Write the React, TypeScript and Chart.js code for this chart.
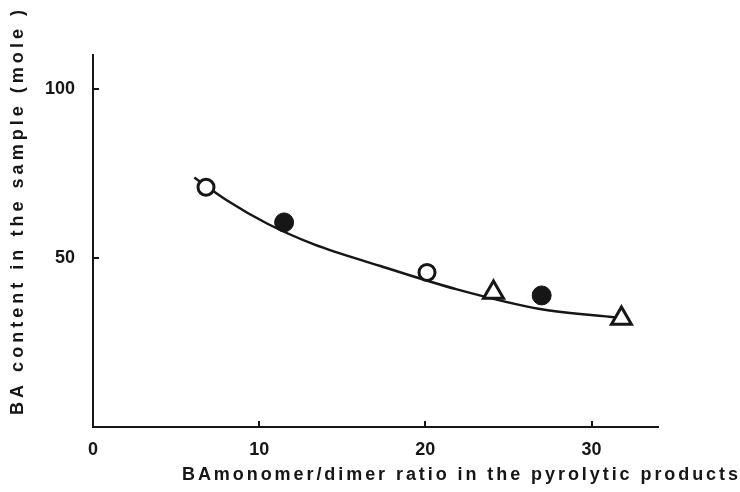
import React, { useEffect, useRef } from "react";
import { Chart, registerables } from "chart.js";

Chart.register(...registerables);

// ---- data ----
const xTickValues = [0, 10, 20, 30];
const yTickValues = [50, 100];

const openCircleX = [6.8, 20.1];
const openCircleY = [70.9, 45.7];

const filledCircleX = [11.5, 27.0];
const filledCircleY = [60.5, 38.9];

const triangleX = [24.1, 31.8];
const triangleY = [39.8, 32.1];

const curveX = [6.1, 8.0, 10.5, 13.3, 17.3, 21.9, 26.9, 31.5];
const curveY = [73.8, 67.2, 60.1, 54.0, 47.6, 40.7, 34.9, 32.4];

const xTitle = "BAmonomer/dimer ratio in the pyrolytic products";
const yTitle = "BA content in the sample (mole )";

const INK = "#161616";
const TICK_FAMILY = '"Liberation Sans", Arial, sans-serif';
const TITLE_FONT = 'bold 18px "Liberation Sans", Arial, sans-serif';

const toPoints = (xs: number[], ys: number[]) => xs.map((x, i) => ({ x, y: ys[i] }));

function drawSpaced(ctx: CanvasRenderingContext2D, text: string, x: number, y: number, length: number) {
  const chars = [...text];
  const widths = chars.map((c) => ctx.measureText(c).width);
  const total = widths.reduce((a, b) => a + b, 0);
  const gap = (length - total) / (chars.length - 1);
  let cx = x;
  chars.forEach((c, i) => {
    ctx.fillText(c, cx, y);
    cx += widths[i] + gap;
  });
}

const titlesPlugin = {
  id: "customTitles",
  afterDraw(chart: any) {
    const { ctx, chartArea } = chart;
    ctx.save();
    ctx.fillStyle = INK;
    ctx.font = TITLE_FONT;
    ctx.textBaseline = "alphabetic";
    ctx.textAlign = "left";
    // y title (rotated)
    ctx.save();
    ctx.translate(chartArea.left - 70, chartArea.bottom - 12);
    ctx.rotate(-Math.PI / 2);
    drawSpaced(ctx, yTitle, 0, 0, 405);
    ctx.restore();
    // x title
    drawSpaced(ctx, xTitle, chartArea.left + 89, chartArea.bottom + 53, 556);
    ctx.restore();
  },
};

export default function App() {
  const canvasRef = useRef<HTMLCanvasElement | null>(null);

  useEffect(() => {
    if (!canvasRef.current) return;
    const chart = new Chart(canvasRef.current, {
      type: "scatter",
      data: {
        datasets: [
          {
            label: "curve",
            data: toPoints(curveX, curveY),
            showLine: true,
            borderColor: INK,
            borderWidth: 2.5,
            pointRadius: 0,
            cubicInterpolationMode: "monotone",
            order: 4,
          } as any,
          {
            label: "open",
            data: toPoints(openCircleX, openCircleY),
            pointStyle: "circle",
            pointRadius: 8,
            pointBorderWidth: 3,
            borderColor: INK,
            backgroundColor: "#ffffff",
            order: 1,
          },
          {
            label: "filled",
            data: toPoints(filledCircleX, filledCircleY),
            pointStyle: "circle",
            pointRadius: 9.5,
            pointBorderWidth: 1,
            borderColor: INK,
            backgroundColor: INK,
            order: 2,
          },
          {
            label: "triangle",
            data: toPoints(triangleX, triangleY),
            pointStyle: "triangle",
            pointRadius: 11.5,
            pointBorderWidth: 3,
            borderColor: INK,
            backgroundColor: "#ffffff",
            order: 3,
          },
        ],
      },
      options: {
        responsive: false,
        animation: false,
        events: [],
        layout: { padding: { top: 55, right: 82, left: 0, bottom: 0 } },
        plugins: { legend: { display: false }, tooltip: { enabled: false }, title: { display: false } },
        scales: {
          x: {
            type: "linear",
            min: 0,
            max: 34,
            afterBuildTicks: (s: any) => {
              s.ticks = xTickValues.map((v) => ({ value: v }));
            },
            afterFit: (s: any) => {
              s.height = 65;
            },
            border: { display: true, color: INK, width: 2 },
            grid: { drawOnChartArea: false, drawTicks: true, tickLength: -6, color: INK, lineWidth: 2 },
            ticks: {
              color: INK,
              padding: 18,
              font: { family: TICK_FAMILY, size: 18, weight: "bold" },
              callback: (v: any) => String(v),
            },
          },
          y: {
            type: "linear",
            min: 0,
            max: 110,
            afterBuildTicks: (s: any) => {
              s.ticks = yTickValues.map((v) => ({ value: v }));
            },
            afterFit: (s: any) => {
              s.width = 93;
            },
            border: { display: true, color: INK, width: 2 },
            grid: { drawOnChartArea: false, drawTicks: true, tickLength: -6, color: INK, lineWidth: 2 },
            ticks: {
              color: INK,
              padding: 24,
              font: { family: TICK_FAMILY, size: 18, weight: "bold" },
              callback: (v: any) => String(v),
            },
          },
        },
      },
      plugins: [titlesPlugin],
    });
    return () => chart.destroy();
  }, []);

  return (
    <div style={{ position: "fixed", left: 0, top: 0, width: 740, height: 492, background: "#ffffff" }}>
      <canvas ref={canvasRef} width={740} height={492} style={{ display: "block" }} />
    </div>
  );
}
